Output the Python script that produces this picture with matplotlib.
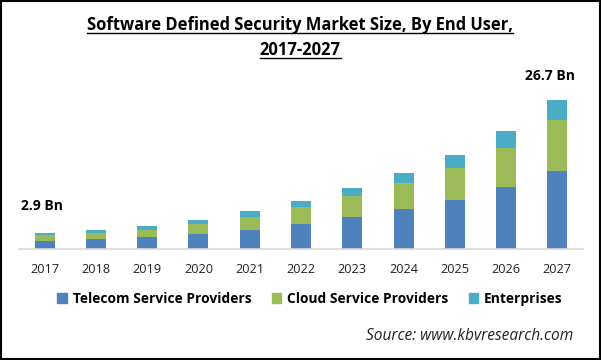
import matplotlib
matplotlib.use('Agg')
import matplotlib.pyplot as plt
from matplotlib.lines import Line2D
from matplotlib.patches import Rectangle, Patch

plt.rcParams['font.family'] = ['Open Sans', 'DejaVu Sans']

# data (USD Bn)
years = ['2017', '2018', '2019', '2020', '2021', '2022', '2023', '2024', '2025', '2026', '2027']
telecom = [1.5, 1.8, 2.2, 2.7, 3.4, 4.5, 5.7, 7.2, 8.8, 11.1, 14.0]
cloud = [1.05, 1.15, 1.25, 1.8, 2.3, 3.0, 3.8, 4.7, 5.7, 7.0, 9.1]
enterprise = [0.35, 0.45, 0.65, 0.7, 1.1, 1.1, 1.4, 1.7, 2.3, 3.0, 3.6]
series_names = ['Telecom Service Providers', 'Cloud Service Providers', 'Enterprises']
colors = ['#4f81bd', '#9bbb59', '#4bacc6']
first_label = '2.9 Bn'
last_label = '26.7 Bn'

fig = plt.figure(figsize=(6.01, 3.6), dpi=100)
W, H = 601, 360
ax = fig.add_axes([19 / W, 1 - 249 / H, 564 / W, 159 / H])

x = range(len(years))
bottom2 = [a + b for a, b in zip(telecom, cloud)]
totals = [a + b for a, b in zip(bottom2, enterprise)]
ax.bar(x, telecom, width=0.39, color=colors[0])
ax.bar(x, cloud, width=0.39, bottom=telecom, color=colors[1])
ax.bar(x, enterprise, width=0.39, bottom=bottom2, color=colors[2])

ax.set_xlim(-0.5, len(years) - 0.5)
ax.set_ylim(0, 28.5)
ax.set_xticks(list(x))
ax.set_xticklabels(years, fontsize=9.2, color='#222222')
ax.tick_params(axis='x', length=0, pad=10)
ax.set_yticks([])
for s in ['top', 'right', 'left']:
    ax.spines[s].set_visible(False)
ax.spines['bottom'].set_color('#d9d9d9')
ax.spines['bottom'].set_linewidth(1.2)

ax.annotate(first_label, xy=(0, totals[0]), xytext=(-2, 19), textcoords='offset points',
            ha='center', va='center', fontsize=10, fontweight='bold')
ax.annotate(last_label, xy=(len(years) - 1, totals[-1]), xytext=(-5, 17), textcoords='offset points',
            ha='center', va='center', fontsize=10, fontweight='bold')

t1 = fig.text(300 / W, 1 - 25 / H, 'Software Defined Security Market Size, By End User,',
              ha='center', va='center', fontsize=11.9, fontweight='bold')
t2 = fig.text(300 / W, 1 - 50 / H, '2017-2027', ha='center', va='center',
              fontsize=11.9, fontweight='bold')

handles = [Patch(color=c) for c in colors]
fig.legend(handles, series_names, loc='center', bbox_to_anchor=(310 / W, 1 - 299 / H),
           ncol=3, frameon=False, handlelength=0.7, handleheight=0.7, handletextpad=0.4,
           columnspacing=1.5, prop={'weight': 'bold', 'size': 9.9})

fig.text(573 / W, 1 - 336 / H, 'Source: www.kbvresearch.com', ha='right', va='center',
         fontsize=11.2, style='italic', color='#222222')

# frame around the picture
fig.patches.append(Rectangle((0.002, 0.003), 0.996, 0.994, transform=fig.transFigure,
                             fill=False, edgecolor='black', linewidth=1.5))

# underline the title
fig.canvas.draw()
r = fig.canvas.get_renderer()
for t in (t1, t2):
    bb = t.get_window_extent(r)
    yline = bb.y0 + 1
    fig.add_artist(Line2D([bb.x0 / W, bb.x1 / W], [yline / H, yline / H],
                          transform=fig.transFigure, color='black', linewidth=1.0))

fig.savefig('out.png', dpi=100)
